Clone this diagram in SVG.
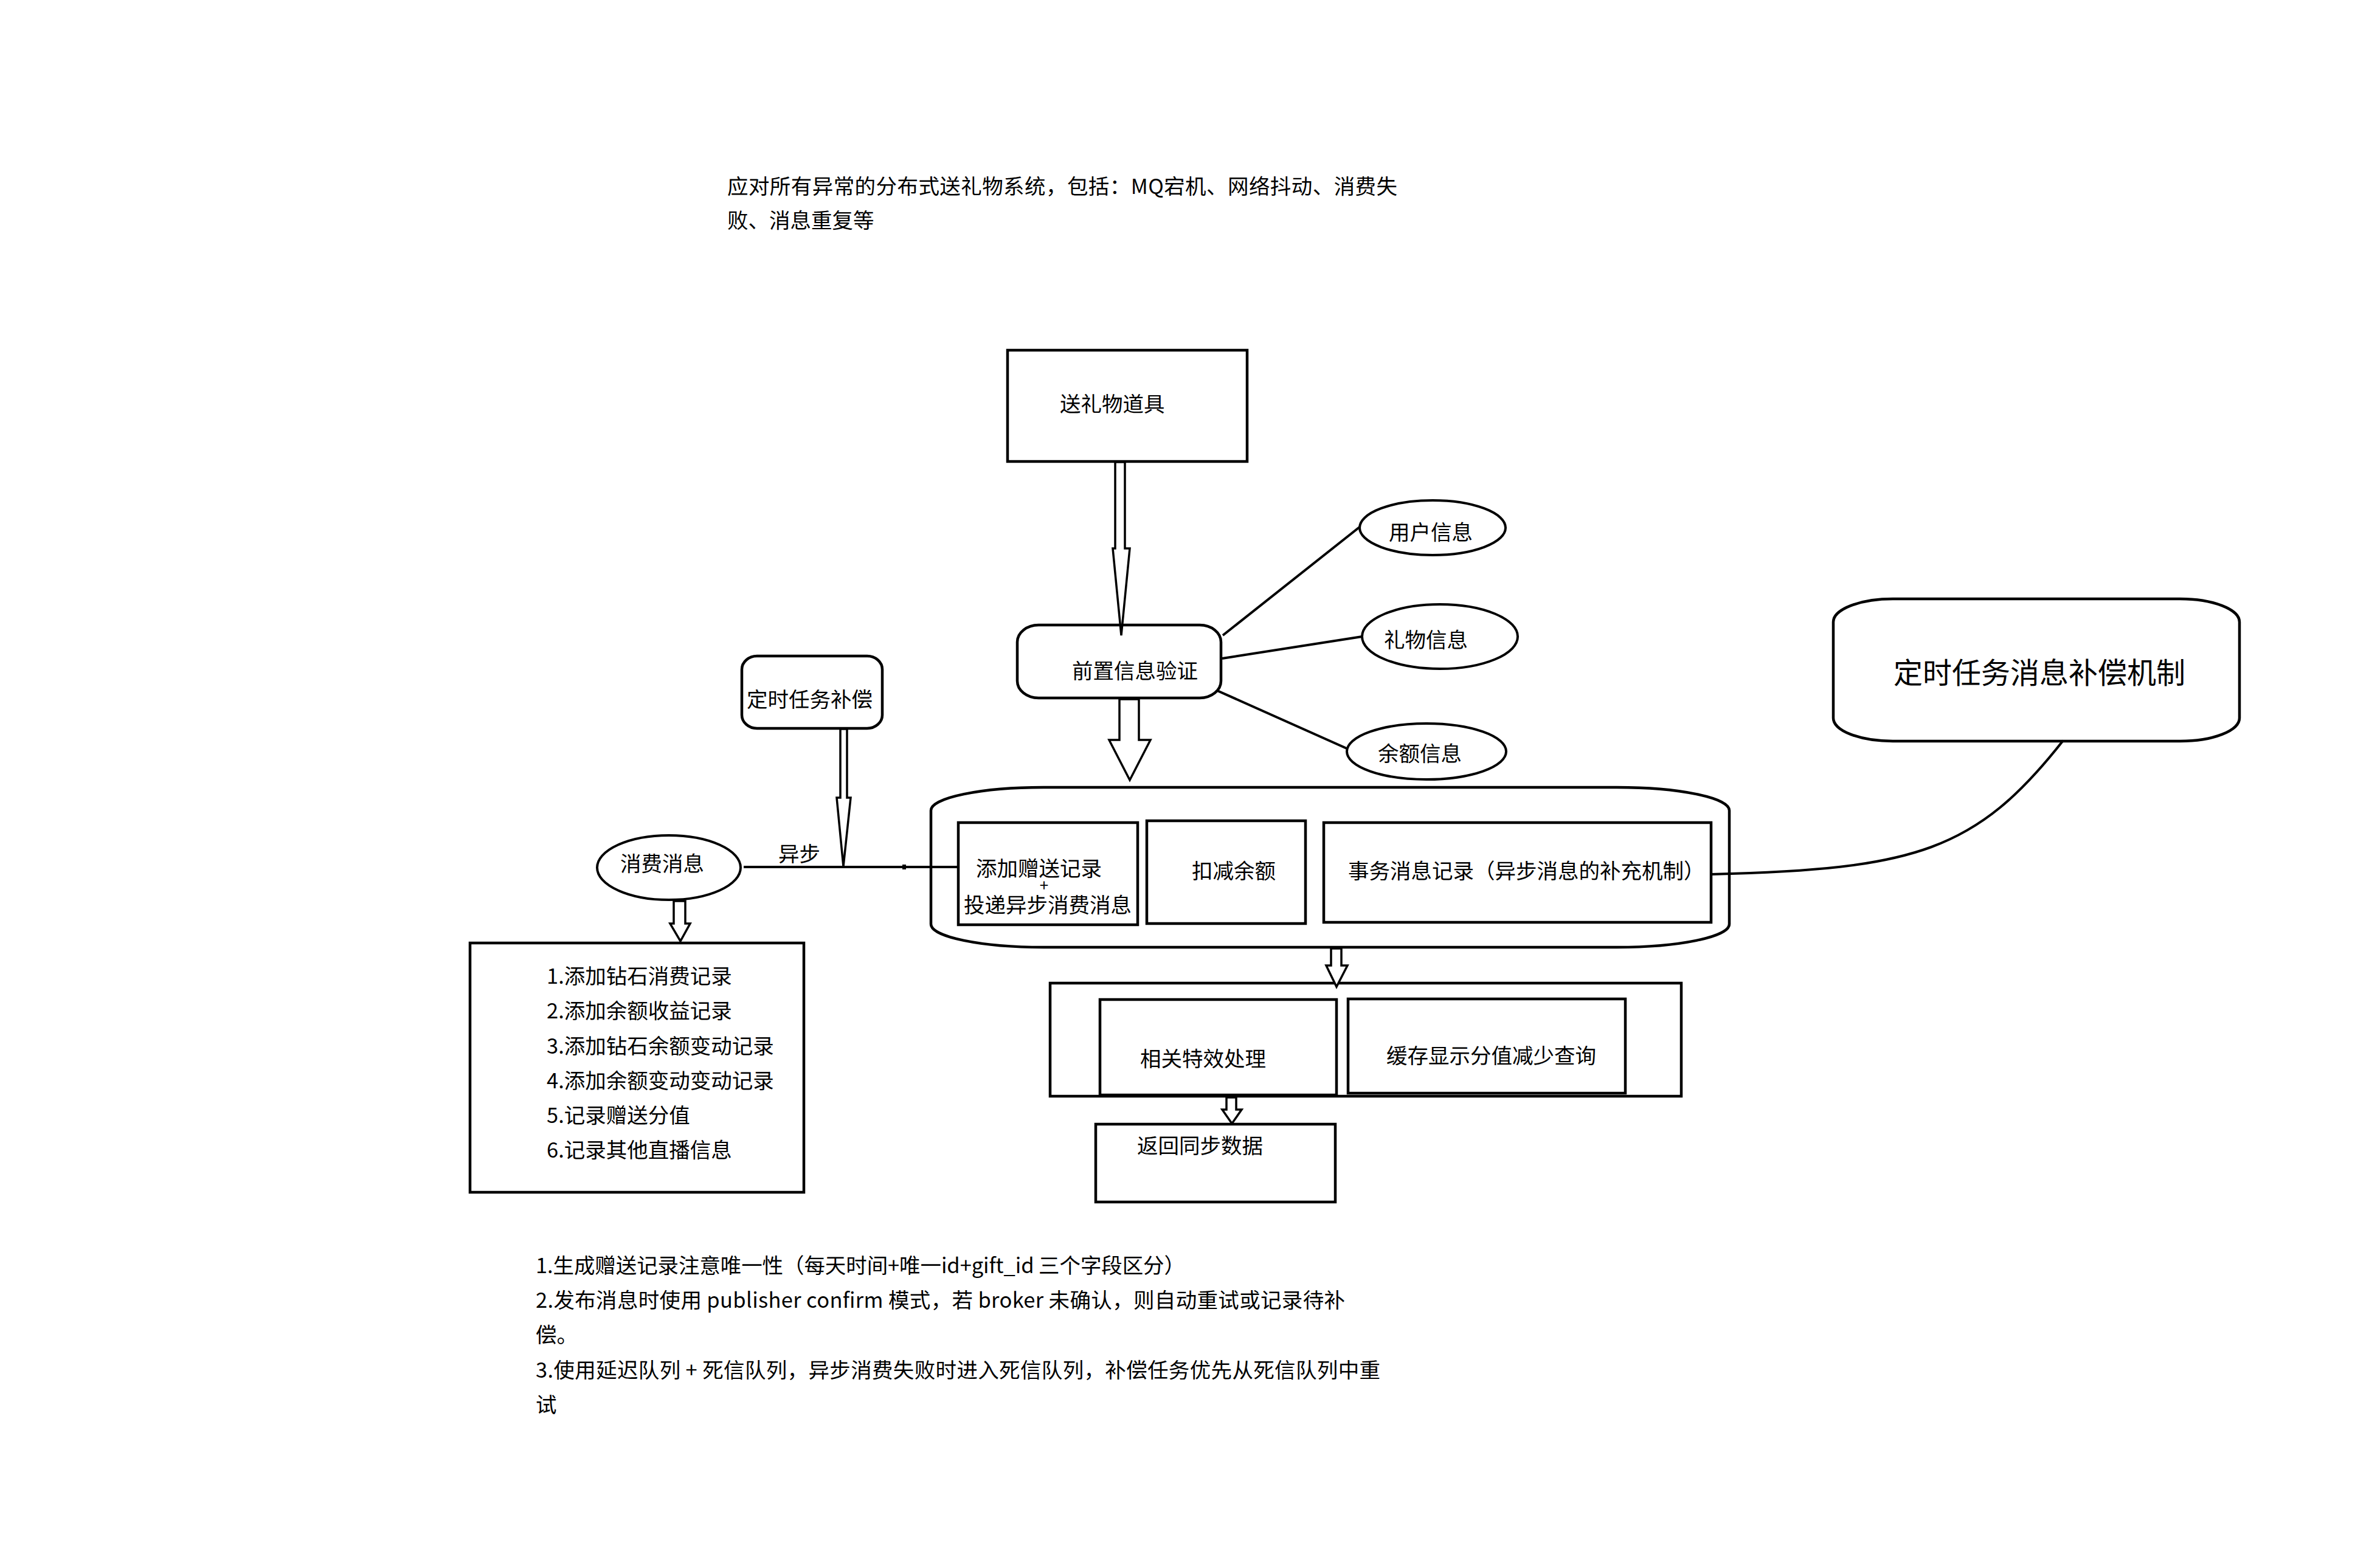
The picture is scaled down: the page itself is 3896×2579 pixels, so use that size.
<svg xmlns="http://www.w3.org/2000/svg" width="3896" height="2579" viewBox="0 0 3896 2579">
<style>
 text { font-family: "Noto Sans CJK SC", "Noto Sans", sans-serif; font-size: 34.5px; fill: #000; }
 .big { font-size: 48px; }
 .plus { font-size: 26px; }
 .box { fill: #fff; stroke: #000; stroke-width: 4.5; }
 .ell { fill: #fff; stroke: #000; stroke-width: 4; }
 .line { fill: none; stroke: #000; stroke-width: 4; }
 .arrow { fill: #fff; stroke: #000; stroke-width: 3.5; stroke-linejoin: miter; }
</style>
<rect width="3896" height="2579" fill="#fff"/>

<g id="title">
 <text x="1196" y="319" textLength="1102" lengthAdjust="spacing">应对所有异常的分布式送礼物系统，包括：MQ宕机、网络抖动、消费失</text>
 <text x="1196" y="375">败、消息重复等</text>
</g>

<g id="node-send-gift">
 <rect class="box" x="1657" y="576" width="394" height="183"/>
 <text x="1743" y="677">送礼物道具</text>
</g>

<g id="node-precheck">
 <rect class="box" x="1673" y="1028" width="335" height="120" rx="35" ry="28"/>
 <text x="1763" y="1116">前置信息验证</text>
</g>

<g id="node-user-info">
 <ellipse class="ell" cx="2356" cy="868" rx="120" ry="45"/>
 <text x="2284" y="888">用户信息</text>
</g>
<g id="node-gift-info">
 <ellipse class="ell" cx="2368" cy="1047" rx="128" ry="53"/>
 <text x="2276" y="1065">礼物信息</text>
</g>
<g id="node-balance-info">
 <ellipse class="ell" cx="2346" cy="1236" rx="131" ry="46"/>
 <text x="2266" y="1252">余额信息</text>
</g>

<g id="node-timer-comp">
 <rect class="box" x="1220" y="1079" width="231" height="119" rx="25" ry="22"/>
 <text x="1228" y="1163">定时任务补偿</text>
</g>

<g id="node-timer-msg-comp">
 <rect class="box" x="3015" y="985" width="668" height="234" rx="98" ry="38"/>
 <text class="big" x="3114" y="1124">定时任务消息补偿机制</text>
</g>

<g id="node-consume-msg">
 <ellipse class="ell" cx="1100" cy="1427" rx="118" ry="53"/>
 <text x="1020" y="1433">消费消息</text>
</g>

<g id="node-consume-list">
 <rect class="box" x="773" y="1551" width="549" height="410"/>
 <text x="899" y="1618">1.添加钻石消费记录</text>
 <text x="899" y="1675">2.添加余额收益记录</text>
 <text x="899" y="1733">3.添加钻石余额变动记录</text>
 <text x="899" y="1790">4.添加余额变动变动记录</text>
 <text x="899" y="1847">5.记录赠送分值</text>
 <text x="899" y="1904">6.记录其他直播信息</text>
</g>

<g id="node-transaction">
 <rect class="box" x="1531" y="1295" width="1313" height="263" rx="185" ry="38"/>
</g>
<g id="node-add-record">
 <rect class="box" x="1576" y="1353" width="295" height="168"/>
 <text x="1605" y="1441">添加赠送记录</text>
 <text class="plus" x="1717" y="1466" text-anchor="middle">+</text>
 <text x="1585" y="1501">投递异步消费消息</text>
</g>
<g id="node-deduct">
 <rect class="box" x="1886" y="1350" width="261" height="169"/>
 <text x="1960" y="1445">扣减余额</text>
</g>
<g id="node-tx-msg">
 <rect class="box" x="2177" y="1353" width="637" height="164"/>
 <text x="2217" y="1445">事务消息记录（异步消息的补充机制）</text>
</g>

<g id="node-post">
 <rect class="box" x="1727" y="1617" width="1038" height="186"/>
</g>
<g id="node-effects">
 <rect class="box" x="1809" y="1644" width="389" height="157"/>
 <text x="1875" y="1754">相关特效处理</text>
</g>
<g id="node-cache">
 <rect class="box" x="2217" y="1643" width="456" height="155"/>
 <text x="2280" y="1749">缓存显示分值减少查询</text>
</g>

<g id="node-return">
 <rect class="box" x="1802" y="1849" width="394" height="128"/>
 <text x="1870" y="1897">返回同步数据</text>
</g>

<g id="notes">
 <text x="881" y="2094" textLength="1068" lengthAdjust="spacing">1.生成赠送记录注意唯一性（每天时间+唯一id+gift_id 三个字段区分）</text>
 <text x="881" y="2151" textLength="1331" lengthAdjust="spacing">2.发布消息时使用 publisher confirm 模式，若 broker 未确认，则自动重试或记录待补</text>
 <text x="881" y="2208">偿。</text>
 <text x="881" y="2266" textLength="1389" lengthAdjust="spacing">3.使用延迟队列 + 死信队列，异步消费失败时进入死信队列，补偿任务优先从死信队列中重</text>
 <text x="881" y="2323">试</text>
</g>

<g id="connectors">
 <line class="line" x1="2011" y1="1045" x2="2237" y2="866"/>
 <line class="line" x1="2010" y1="1083" x2="2240" y2="1047"/>
 <line class="line" x1="2002" y1="1136" x2="2217" y2="1232"/>
 <line class="line" x1="1223" y1="1426" x2="1576" y2="1426"/>
 <rect x="1484" y="1422" width="6" height="8" fill="#000"/>
 <text x="1280" y="1417">异步</text>
 <path class="line" d="M2814,1438 C3150,1430 3250,1400 3393,1218"/>
 <polygon class="arrow" points="1834,760 1834,902 1830,902 1844,1045 1858,902 1850,902 1850,760"/>
 <polygon class="arrow" points="1841,1150 1841,1217 1824,1217 1858,1283 1892,1217 1873,1217 1873,1150"/>
 <polygon class="arrow" points="1382,1199 1382,1312 1376,1312 1387,1425 1399,1312 1393,1312 1393,1199"/>
 <polygon class="arrow" points="1108,1482 1108,1519 1102,1519 1119,1548 1135,1519 1127,1519 1127,1482"/>
 <polygon class="arrow" points="2189,1560 2189,1588 2181,1588 2198,1623 2216,1588 2206,1588 2206,1560"/>
 <polygon class="arrow" points="2017,1805 2017,1825 2010,1825 2026,1848 2042,1825 2033,1825 2033,1805"/>
</g>
</svg>
